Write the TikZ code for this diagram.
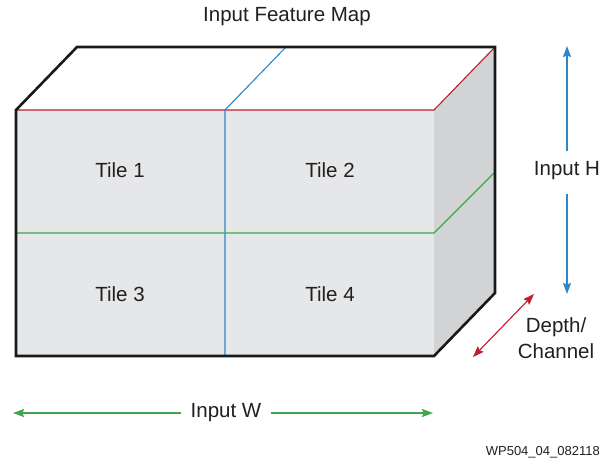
\documentclass[tikz,border=0pt]{standalone}
\usepackage{fontspec}
\setmainfont{Liberation Sans}
\usetikzlibrary{arrows.meta}
\definecolor{txt}{HTML}{231F20}
\definecolor{frontgrey}{HTML}{E6E7E8}
\definecolor{sidegrey}{HTML}{D1D3D4}
\definecolor{splitred}{HTML}{BE1E2D}
\definecolor{splitblue}{HTML}{2F86C8}
\definecolor{splitgreen}{HTML}{3FA74B}
\tikzset{
  lbl/.style={text=txt, font=\fontsize{20.5}{26}\selectfont, inner sep=0pt},
  small/.style={text=txt, font=\fontsize{13}{15}\selectfont, inner sep=0pt},
  outline/.style={draw=black!90, line width=2.6pt, line join=miter},
  split/.style={line width=1.1pt},
  dimarrow/.style={line width=1.1pt, {Stealth[length=11pt,width=8pt,inset=1.5pt]}-{Stealth[length=11pt,width=8pt,inset=1.5pt]}},
  tipend/.style={line width=1.3pt, -{Stealth[length=11pt,width=8pt,inset=1.5pt]}}
}
\begin{document}
\begin{tikzpicture}[x=1pt,y=-1pt]
\useasboundingbox (0,0) rectangle (602,461);
% corners of the block
\coordinate (fTL) at (16,110);
\coordinate (fTR) at (434,110);
\coordinate (fBR) at (434,356);
\coordinate (fBL) at (16,356);
\coordinate (bTL) at (77,47);
\coordinate (bTR) at (495,47);
\coordinate (bBR) at (495,293);
% faces
\fill[white] (fTL) -- (bTL) -- (bTR) -- (fTR) -- cycle;
\fill[frontgrey] (fTL) rectangle (fBR);
\fill[sidegrey] (fTR) -- (bTR) -- (bBR) -- (fBR) -- cycle;
% tile boundaries
\draw[split, splitred] (fTL) -- (fTR) -- (bTR);
\draw[split, splitblue] (225,356) -- (225,110) -- (286,47);
\draw[split, splitgreen] (16,233) -- (434,233) -- (495,172);
% silhouette
\draw[outline] (fTL) -- (bTL) -- (bTR) -- (bBR) -- (fBR) -- (fBL) -- cycle;
% labels
\node[lbl] (title) at (287,17) {Input Feature Map};
\node[lbl] (t1) at (120,170) {Tile 1};
\node[lbl] (t2) at (330,170) {Tile 2};
\node[lbl] (t3) at (120,294) {Tile 3};
\node[lbl] (t4) at (330,294) {Tile 4};
\node[lbl] (inH) at (567,171) {Input H};
\node[lbl, align=center] (depth) at (556,338) {Depth/\\Channel};
\node[lbl] (inW) at (226,413) {Input W};
\node[small, anchor=east] (ref) at (600,452) {WP504\_04\_082118};
% dimension arrows
\coordinate (hTop) at (567,46);
\coordinate (hBot) at (567,294);
\draw[tipend, splitblue] (567,151) -- (hTop);
\draw[tipend, splitblue] (567,194) -- (hBot);
\coordinate (dA) at (534,294);
\coordinate (dB) at (473,357);
\draw[dimarrow, splitred] (dA) -- (dB);
\coordinate (wL) at (13,413);
\coordinate (wR) at (433,413);
\draw[tipend, splitgreen] ([xshift=-9pt]inW.west) -- (wL);
\draw[tipend, splitgreen] ([xshift=9pt]inW.east) -- (wR);
\end{tikzpicture}
\end{document}
